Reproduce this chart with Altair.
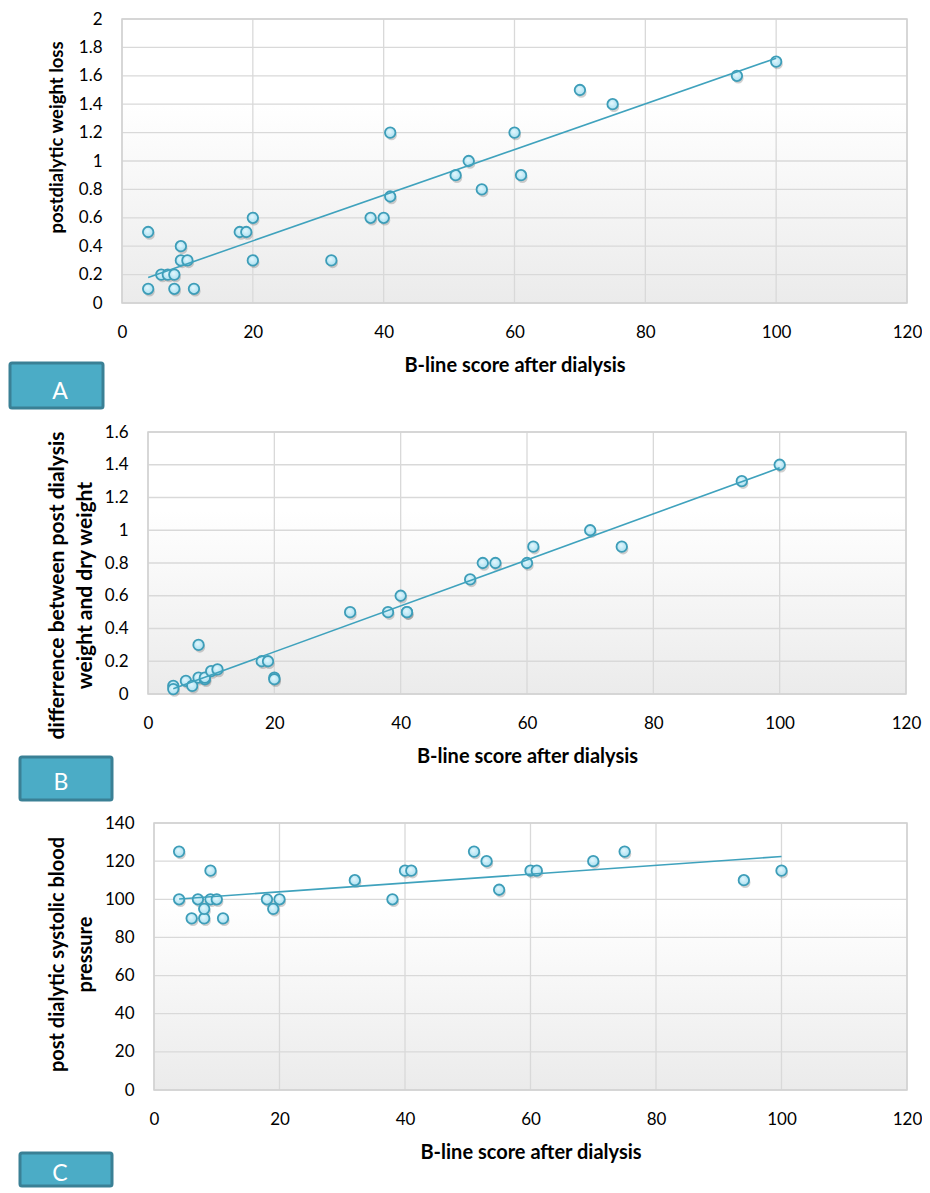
import altair as alt
import pandas as pd

# ---------------- data ----------------
x_ticks = [0, 20, 40, 60, 80, 100, 120]
x_title = "B-line score after dialysis"

# Panel A: postdialytic weight loss
x_a = [4, 4, 6, 7, 8, 8, 9, 9, 10, 11, 18, 19, 20, 20, 32, 38, 40, 41, 41, 51, 53, 55, 60, 61, 70, 75, 94, 100]
y_a = [0.5, 0.1, 0.2, 0.2, 0.2, 0.1, 0.4, 0.3, 0.3, 0.1, 0.5, 0.5, 0.6, 0.3, 0.3, 0.6, 0.6, 0.75, 1.2, 0.9, 1.0, 0.8, 1.2, 0.9, 1.5, 1.4, 1.6, 1.7]
y_ticks_a = [0, 0.2, 0.4, 0.6, 0.8, 1, 1.2, 1.4, 1.6, 1.8, 2]
y_title_a = "postdialytic weight loss"

# Panel B: difference between post dialysis weight and dry weight
x_b = [4, 4, 6, 7, 8, 8, 9, 9, 10, 11, 18, 19, 20, 20, 32, 38, 40, 41, 41, 51, 53, 55, 60, 61, 70, 75, 94, 100]
y_b = [0.05, 0.03, 0.08, 0.05, 0.3, 0.1, 0.09, 0.1, 0.14, 0.15, 0.2, 0.2, 0.1, 0.09, 0.5, 0.5, 0.6, 0.5, 0.5, 0.7, 0.8, 0.8, 0.8, 0.9, 1.0, 0.9, 1.3, 1.4]
y_ticks_b = [0, 0.2, 0.4, 0.6, 0.8, 1, 1.2, 1.4, 1.6]
y_title_b = ["differrence between post dialysis", "weight and dry weight"]

# Panel C: post dialytic systolic blood pressure
x_c = [4, 4, 6, 7, 8, 8, 9, 9, 10, 11, 18, 19, 20, 32, 38, 40, 41, 51, 53, 55, 60, 61, 70, 75, 94, 100]
y_c = [125, 100, 90, 100, 90, 95, 115, 100, 100, 90, 100, 95, 100, 110, 100, 115, 115, 125, 120, 105, 115, 115, 120, 125, 110, 115]
y_ticks_c = [0, 20, 40, 60, 80, 100, 120, 140]
y_title_c = ["post dialytic systolic blood", "pressure"]

panel_letters = ["A", "B", "C"]

# ---------------- styling ----------------
FONT = "Lato"
LINE_COLOR = "#3fa2bd"
POINT_STROKE = "#3d9db8"
BOX_FILL = "#4bacc6"
BOX_STROKE = "#3a8095"
GRID = "#d9d9d9"
W = 785  # common view width (page x 122 .. 907)

point_fill = alt.RadialGradient(
    gradient="radial",
    stops=[alt.GradientStop(color="#e6f8fd", offset=0),
           alt.GradientStop(color="#a6def0", offset=1)],
    x1=0.4, y1=0.35, r1=0, x2=0.5, y2=0.5, r2=0.55,
)
bg_fill = alt.LinearGradient(
    gradient="linear",
    stops=[alt.GradientStop(color="#ffffff", offset=0),
           alt.GradientStop(color="#ffffff", offset=0.3),
           alt.GradientStop(color="#ebebeb", offset=1)],
    x1=0, y1=0, x2=0, y2=1,
)


def panel(xs, ys, y_dom, y_ticks, x0, x1, h, y_title, t_size, tx, ty, box, letter_pos, letter, frame):
    df = pd.DataFrame({"x": xs, "y": ys})
    base = alt.Chart(df)
    xs_scale = alt.Scale(domain=[0, 120], nice=False, zero=False, range=[x0, x1])
    ys_scale = alt.Scale(domain=y_dom, nice=False, zero=False)
    x_axis = alt.Axis(values=x_ticks, title=x_title, titleX=(x0 + x1) / 2, titleY=68,
                      titleBaseline="alphabetic", titleAlign="center", titleFontSize=20,
                      labelPadding=21, labelFlush=False, labelOverlap=False, grid=False)
    y_axis = alt.Axis(values=y_ticks, title=y_title, titleX=tx, titleY=ty, offset=-x0,
                      titleAngle=270, titleAlign="center", titleBaseline="middle",
                      titleFontSize=t_size, titleLineHeight=28.5, labelPadding=20,
                      labelFlush=False, labelOverlap=False, labelSeparation=0,
                      labelExpr="format(datum.value, '.2~f')", grid=False)

    def ex(field):
        return alt.X(field, scale=xs_scale, axis=x_axis)

    def ey(field):
        return alt.Y(field, scale=ys_scale, axis=y_axis)

    lab = pd.DataFrame({"label": [letter]})
    frame_rect = alt.Chart(lab).mark_rect(opacity=0).encode(
        x=alt.value(frame[0]), x2=alt.value(frame[1]), y=alt.value(frame[2]), y2=alt.value(frame[3]))
    plot_bg = alt.Chart(lab).mark_rect(fill=bg_fill).encode(
        x=alt.value(x0), x2=alt.value(x1), y=alt.value(0), y2=alt.value(h))
    vgrid = alt.Chart(pd.DataFrame({"t": x_ticks})).mark_rule(
        color=GRID, strokeWidth=1.3).encode(x=ex("t:Q"), y=alt.value(0), y2=alt.value(h))
    hgrid = alt.Chart(pd.DataFrame({"t": y_ticks})).mark_rule(
        color=GRID, strokeWidth=1.3).encode(y=ey("t:Q"), x=alt.value(x0), x2=alt.value(x1))
    border = alt.Chart(lab).mark_rect(filled=False, stroke="#d2d2d2", strokeWidth=1.5).encode(
        x=alt.value(x0), x2=alt.value(x1), y=alt.value(0), y2=alt.value(h))

    shadow = base.mark_circle(color="#555555", opacity=0.28, size=115,
                              xOffset=1.3, yOffset=2.4).encode(x=ex("x:Q"), y=ey("y:Q"))
    pts = base.mark_circle(fill=point_fill, stroke=POINT_STROKE, strokeWidth=1.8,
                           opacity=1, size=110).encode(x=ex("x:Q"), y=ey("y:Q"))
    trend = base.transform_regression("x", "y").mark_line(
        color=LINE_COLOR, strokeWidth=1.6).encode(x=ex("x:Q"), y=ey("y:Q"))

    box_rect = alt.Chart(lab).mark_rect(fill=BOX_FILL, stroke=BOX_STROKE, strokeWidth=3,
                                        cornerRadius=2).encode(
        x=alt.value(box[0]), x2=alt.value(box[1]), y=alt.value(box[2]), y2=alt.value(box[3]))
    box_text = alt.Chart(lab).mark_text(color="white", font=FONT, fontSize=23,
                                        baseline="alphabetic", align="center").encode(
        x=alt.value(letter_pos[0]), y=alt.value(letter_pos[1]), text="label:N")

    return alt.layer(frame_rect, plot_bg, vgrid, hgrid, border, shadow, pts, trend,
                     box_rect, box_text).properties(width=W, height=h)


# all views share page origin x = 122; plot areas are placed through the x-scale range
# panel A: plot page x 122..907, y ~18..302
pa = panel(x_a, y_a, [0, 2], y_ticks_a, 0, 785, 284, y_title_a, 18.5, -66, 118,
           (-112, -19, 344, 389), (-62, 380), panel_letters[0], (-114, W, -8, 394))
# panel B: plot page x 148..906, y 431..693
pb = panel(x_b, y_b, [0, 1.6], y_ticks_b, 26, 784, 262, y_title_b, 21, -91, 153,
           (-102, -10, 325, 368), (-61, 358), panel_letters[1], (-114, W, -19, 375))
# panel C: plot page x 154..907, y 822..1089
pc = panel(x_c, y_c, [0, 140], y_ticks_c, 32, 785, 267, y_title_c, 20, -97, 131,
           (-102, -10, 330, 363), (-62, 358), panel_letters[2], (-114, W, -16, 360))

chart = alt.vconcat(pa, pb, pc, spacing=0).properties(
    padding={"top": 2, "left": 0, "right": 0, "bottom": 0}
).configure_view(
    strokeWidth=0
).configure_axis(
    labelFont=FONT, labelFontSize=17, labelColor="#000000", labelOverlap=False,
    titleFont=FONT, titleFontWeight="bold", titleColor="#000000",
    ticks=False, domain=False,
)

chart.save("out.html", embed_options={"renderer": "svg", "actions": False})
